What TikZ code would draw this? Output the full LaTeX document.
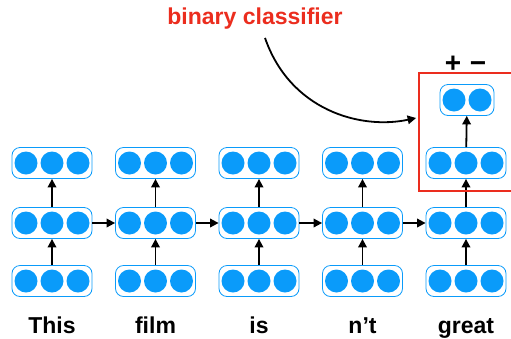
\documentclass[tikz,border=0pt]{standalone}
\usepackage{fontspec}
\setmainfont{Liberation Sans}
\usetikzlibrary{arrows.meta}
\definecolor{cellblue}{RGB}{10,155,250}
\definecolor{clsred}{RGB}{235,45,30}
\tikzset{
	layer/.style={draw=cellblue,line width=0.8pt,rounded corners=8pt,minimum width=80pt,minimum height=31pt,inner sep=0pt},
	pairlayer/.style={layer,minimum width=54pt},
	cell/.style={circle,fill=cellblue,minimum size=23pt,inner sep=0pt},
	link/.style={-{Triangle[length=8.5pt,width=8.5pt]},line width=1.8pt},
	word/.style={font=\bfseries\fontsize{23}{27}\selectfont,inner sep=0pt},
	sign/.style={font=\bfseries\fontsize{28}{30}\selectfont,inner sep=0pt,anchor=base}
}
\begin{document}
\begin{tikzpicture}[x=1pt,y=-1pt]
		\useasboundingbox (0,0) rectangle (511,338);
		\foreach \i/\x/\w in {1/52/This,2/155.5/film,3/259/is,4/362.5/n’t,5/466/great}{
			\node[layer] (in\i) at (\x,281) {};
			\node[layer] (h\i) at (\x,223) {};
			\node[layer] (out\i) at (\x,163) {};
			\foreach \k/\dx in {a/-26,b/0,c/26}{
				\node[cell] (in\i\k) at ([xshift=\dx pt]in\i.center) {};
				\node[cell] (h\i\k) at ([xshift=\dx pt]h\i.center) {};
				\node[cell] (out\i\k) at ([xshift=\dx pt]out\i.center) {};
			}
			\node[word,anchor=base] (w\i) at (\x,333) {\w};
			\draw[link] (in\i) -- (h\i);
			\draw[link] (h\i) -- (out\i);
		}
		\foreach \i/\j in {1/2,2/3,3/4,4/5}
			\draw[link] (h\i) -- (h\j);
		\node[pairlayer] (cls) at (467,100) {};
		\node[cell] (clsa) at ([xshift=-13pt]cls.center) {};
		\node[cell] (clsb) at ([xshift=13pt]cls.center) {};
		\draw[link] (out5) -- (cls);
		\node[sign] (pos) at (453,72) {+};
		\node[sign] (neg) at (478,72) {−};
		\node[draw=clsred,line width=1.8pt,minimum width=94pt,minimum height=118pt,inner sep=0pt] (frame) at (466,132) {};
		\node[word,text=clsred] (label) at (255,19) {binary classifier};
		\draw[link] ([xshift=10pt,yshift=-8pt]label.south) .. controls (290,110) and (360,130) .. ([xshift=-2pt,yshift=14pt]frame.west);
\end{tikzpicture}
\end{document}
